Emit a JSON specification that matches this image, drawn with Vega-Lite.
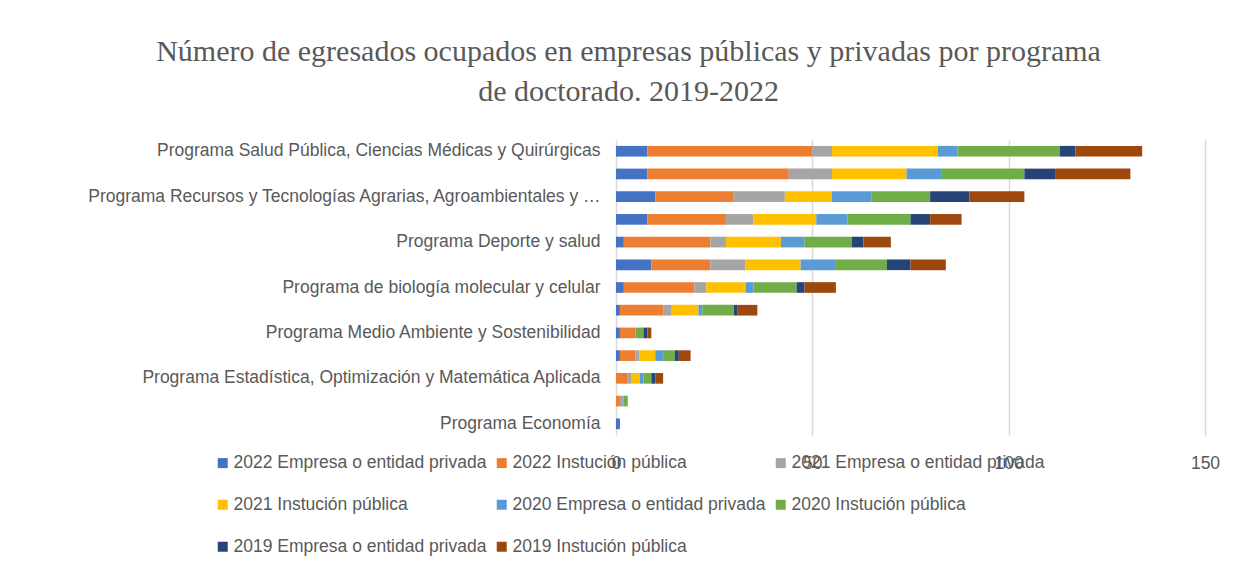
{
  "$schema": "https://vega.github.io/schema/vega-lite/v6.json",
  "autosize": {"type": "none"},
  "width": 589,
  "height": 295,
  "padding": {"left": 616, "top": 140, "right": 29, "bottom": 132},
  "background": "white",
  "title": {
    "text": ["Número de egresados ocupados en empresas públicas y privadas por programa", "de doctorado. 2019-2022"],
    "font": "Liberation Serif",
    "fontSize": 30,
    "fontWeight": "normal",
    "color": "#595959",
    "anchor": "middle",
    "frame": "group",
    "dx": -282,
    "offset": 33,
    "lineHeight": 40
  },
  "data": {
    "values": [
      {"programa": "Programa Salud Pública, Ciencias Médicas y Quirúrgicas", "2022 Empresa o entidad privada": 8, "2022 Instución pública": 42, "2021 Empresa o entidad privada": 5, "2021 Instución pública": 27, "2020 Empresa o entidad privada": 5, "2020 Instución pública": 26, "2019 Empresa o entidad privada": 4, "2019 Instución pública": 17},
      {"programa": "Programa (etiqueta no visible 1)", "2022 Empresa o entidad privada": 8, "2022 Instución pública": 36, "2021 Empresa o entidad privada": 11, "2021 Instución pública": 19, "2020 Empresa o entidad privada": 9, "2020 Instución pública": 21, "2019 Empresa o entidad privada": 8, "2019 Instución pública": 19},
      {"programa": "Programa Recursos y Tecnologías Agrarias, Agroambientales y Alimentarias", "2022 Empresa o entidad privada": 10, "2022 Instución pública": 20, "2021 Empresa o entidad privada": 13, "2021 Instución pública": 12, "2020 Empresa o entidad privada": 10, "2020 Instución pública": 15, "2019 Empresa o entidad privada": 10, "2019 Instución pública": 14},
      {"programa": "Programa (etiqueta no visible 2)", "2022 Empresa o entidad privada": 8, "2022 Instución pública": 20, "2021 Empresa o entidad privada": 7, "2021 Instución pública": 16, "2020 Empresa o entidad privada": 8, "2020 Instución pública": 16, "2019 Empresa o entidad privada": 5, "2019 Instución pública": 8},
      {"programa": "Programa Deporte y salud", "2022 Empresa o entidad privada": 2, "2022 Instución pública": 22, "2021 Empresa o entidad privada": 4, "2021 Instución pública": 14, "2020 Empresa o entidad privada": 6, "2020 Instución pública": 12, "2019 Empresa o entidad privada": 3, "2019 Instución pública": 7},
      {"programa": "Programa (etiqueta no visible 3)", "2022 Empresa o entidad privada": 9, "2022 Instución pública": 15, "2021 Empresa o entidad privada": 9, "2021 Instución pública": 14, "2020 Empresa o entidad privada": 9, "2020 Instución pública": 13, "2019 Empresa o entidad privada": 6, "2019 Instución pública": 9},
      {"programa": "Programa de biología molecular y celular", "2022 Empresa o entidad privada": 2, "2022 Instución pública": 18, "2021 Empresa o entidad privada": 3, "2021 Instución pública": 10, "2020 Empresa o entidad privada": 2, "2020 Instución pública": 11, "2019 Empresa o entidad privada": 2, "2019 Instución pública": 8},
      {"programa": "Programa (etiqueta no visible 4)", "2022 Empresa o entidad privada": 1, "2022 Instución pública": 11, "2021 Empresa o entidad privada": 2, "2021 Instución pública": 7, "2020 Empresa o entidad privada": 1, "2020 Instución pública": 8, "2019 Empresa o entidad privada": 1, "2019 Instución pública": 5},
      {"programa": "Programa Medio Ambiente y Sostenibilidad", "2022 Empresa o entidad privada": 1, "2022 Instución pública": 4, "2021 Empresa o entidad privada": 0, "2021 Instución pública": 0, "2020 Empresa o entidad privada": 0, "2020 Instución pública": 2, "2019 Empresa o entidad privada": 1, "2019 Instución pública": 1},
      {"programa": "Programa (etiqueta no visible 5)", "2022 Empresa o entidad privada": 1, "2022 Instución pública": 4, "2021 Empresa o entidad privada": 1, "2021 Instución pública": 4, "2020 Empresa o entidad privada": 2, "2020 Instución pública": 3, "2019 Empresa o entidad privada": 1, "2019 Instución pública": 3},
      {"programa": "Programa Estadística, Optimización y Matemática Aplicada", "2022 Empresa o entidad privada": 0, "2022 Instución pública": 3, "2021 Empresa o entidad privada": 1, "2021 Instución pública": 2, "2020 Empresa o entidad privada": 1, "2020 Instución pública": 2, "2019 Empresa o entidad privada": 1, "2019 Instución pública": 2},
      {"programa": "Programa (etiqueta no visible 6)", "2022 Empresa o entidad privada": 0, "2022 Instución pública": 1, "2021 Empresa o entidad privada": 1, "2021 Instución pública": 0, "2020 Empresa o entidad privada": 0, "2020 Instución pública": 1, "2019 Empresa o entidad privada": 0, "2019 Instución pública": 0},
      {"programa": "Programa Economía", "2022 Empresa o entidad privada": 1, "2022 Instución pública": 0, "2021 Empresa o entidad privada": 0, "2021 Instución pública": 0, "2020 Empresa o entidad privada": 0, "2020 Instución pública": 0, "2019 Empresa o entidad privada": 0, "2019 Instución pública": 0}
    ]
  },
  "transform": [
    {"fold": ["2022 Empresa o entidad privada", "2022 Instución pública", "2021 Empresa o entidad privada", "2021 Instución pública", "2020 Empresa o entidad privada", "2020 Instución pública", "2019 Empresa o entidad privada", "2019 Instución pública"], "as": ["serie", "valor"]},
    {"window": [{"op": "row_number", "as": "orden"}], "groupby": ["programa"]}
  ],
  "mark": {"type": "bar"},
  "encoding": {
    "y": {
      "field": "programa",
      "type": "nominal",
      "sort": null,
      "scale": {"paddingInner": 0.53, "paddingOuter": 0.26},
      "axis": {
        "title": null,
        "ticks": false,
        "domain": false,
        "labelPadding": 16,
        "labelFont": "Liberation Sans",
        "labelFontSize": 17.5,
        "labelColor": "#595959",
        "labelLimit": 515,
        "labelExpr": "indexof(datum.label, 'no visible') >= 0 ? '' : datum.label"
      }
    },
    "x": {
      "field": "valor",
      "type": "quantitative",
      "stack": "zero",
      "scale": {"domain": [0, 150], "nice": false},
      "axis": {
        "title": null,
        "values": [0, 50, 100, 150],
        "ticks": false,
        "domain": false,
        "grid": true,
        "gridColor": "#d9d9d9",
        "gridWidth": 1.5,
        "labelFlush": false,
        "labelPadding": 19,
        "labelFont": "Liberation Sans",
        "labelFontSize": 17.5,
        "labelColor": "#595959"
      }
    },
    "color": {
      "field": "serie",
      "type": "nominal",
      "scale": {
        "domain": ["2022 Empresa o entidad privada", "2022 Instución pública", "2021 Empresa o entidad privada", "2021 Instución pública", "2020 Empresa o entidad privada", "2020 Instución pública", "2019 Empresa o entidad privada", "2019 Instución pública"],
        "range": ["#4472C4", "#ED7D31", "#A5A5A5", "#FFC000", "#5B9BD5", "#70AD47", "#264478", "#9E480E"]
      },
      "legend": {
        "title": null,
        "orient": "none",
        "legendX": -402,
        "legendY": 314,
        "direction": "horizontal",
        "columns": 3,
        "symbolType": "square",
        "symbolSize": 100,
        "symbolStrokeWidth": 0,
        "symbolOpacity": 1,
        "labelFont": "Liberation Sans",
        "labelFontSize": 17.5,
        "labelColor": "#595959",
        "labelLimit": 400,
        "labelOffset": 2,
        "columnPadding": 6,
        "rowPadding": 23
      }
    },
    "order": {"field": "orden", "type": "quantitative", "sort": "ascending"}
  },
  "config": {"view": {"stroke": null}}
}
